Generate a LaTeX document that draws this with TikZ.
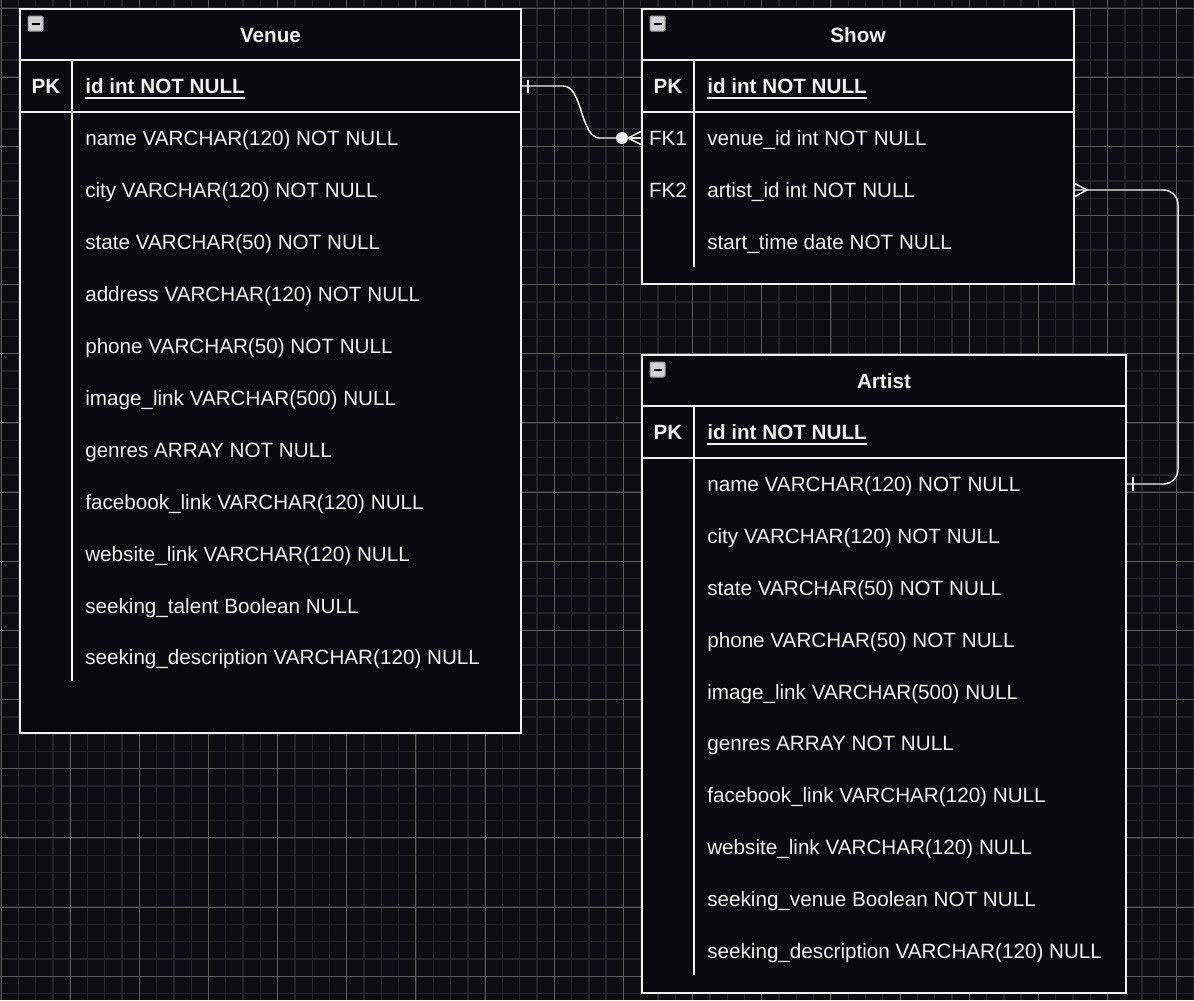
\documentclass[tikz,border=0pt]{standalone}
\usepackage{fontspec}
\setmainfont{Liberation Sans}
\usetikzlibrary{calc}
\definecolor{canvas}{HTML}{0E0D12}
\definecolor{boxfill}{HTML}{0A090D}
\definecolor{ink}{HTML}{F0F0F0}
\definecolor{gridminor}{HTML}{25242A}
\definecolor{gridmajor}{HTML}{5C5C5C}
\newcommand{\erfont}{\fontsize{15.5}{18}\selectfont}
\tikzset{
  minorline/.style={draw=gridminor, line width=1pt},
  majorline/.style={draw=gridmajor, line width=0.75pt},
  tablebox/.style={draw=ink, fill=boxfill, line width=1.5pt},
  seprule/.style={draw=ink, line width=1.5pt},
  field/.style={anchor=base west, inner sep=0pt, text=ink, font=\erfont},
  keyname/.style={anchor=base, inner sep=0pt, text=ink, font=\erfont},
  tabletitle/.style={anchor=base, inner sep=0pt, text=ink, font=\erfont\bfseries},
  rel/.style={draw=ink, line width=1.1pt},
}
\begin{document}
\begin{tikzpicture}[x=0.75pt,y=-0.75pt]
  \useasboundingbox (0,0) rectangle (1194,1000);
  \fill[canvas] (0,0) rectangle (1194,1000);
  % grid
  \foreach \i in {0,...,69}
    \draw[minorline] (1+17.29*\i,0) -- (1+17.29*\i,1000);
  \foreach \i in {-1,...,57}
    \draw[minorline] (0,8+17.29*\i) -- (1194,8+17.29*\i);
  \foreach \i in {0,...,17}
    \draw[majorline] (1+69.16*\i,0) -- (1+69.16*\i,1000);
  \foreach \i in {0,...,14}
    \draw[majorline] (0,8+69.16*\i) -- (1194,8+69.16*\i);
  % tables: left/right/top/bottom/end of key column
  \foreach \l/\r/\t/\b/\e in {20/521/9/733/681, 642/1074/9/284/267, 642/1126/355/993/975} {
    \draw[tablebox] (\l,\t) rectangle (\r,\b);
    \draw[seprule] (\l,\t+51) -- (\r,\t+51);
    \draw[seprule] (\l,\t+103) -- (\r,\t+103);
    \draw[seprule] (\l+52,\t+51) -- (\l+52,\e);
  }
  \foreach \x/\y in {28/16, 650/16, 650/362} {
    \draw[draw=gray!80, fill=gray!35!white, rounded corners=1pt, line width=0.75pt] (\x,\y) rectangle (\x+15,\y+15);
    \draw[black, line width=1.5pt] (\x+3.5,\y+7.5) -- (\x+11.5,\y+7.5);
  }
  % Venue
  \node[tabletitle] (venue) at (270.5,42.5) {Venue};
  \node[tabletitle] (venue-key) at (46,93.5) {PK};
  \node[field, font=\erfont\bfseries] (venue-pk) at (85,93.5) {id int NOT NULL};
  \draw[seprule] ([yshift=-3pt]venue-pk.base west) -- ([yshift=-3pt]venue-pk.base east);
  \foreach \t [count=\i] in {name VARCHAR(120) NOT NULL, city VARCHAR(120) NOT NULL,
      state VARCHAR(50) NOT NULL, address VARCHAR(120) NOT NULL, phone VARCHAR(50) NOT NULL,
      image\_link VARCHAR(500) NULL, genres ARRAY NOT NULL, facebook\_link VARCHAR(120) NULL,
      website\_link VARCHAR(120) NULL, seeking\_talent Boolean NULL,
      seeking\_description VARCHAR(120) NULL}
    \node[field] (venue-\i) at (85,93.5+51.95*\i) {\t};
  % Show
  \node[tabletitle] (show) at (858,42.5) {Show};
  \node[tabletitle] (show-key) at (668,93.5) {PK};
  \node[field, font=\erfont\bfseries] (show-pk) at (707,93.5) {id int NOT NULL};
  \draw[seprule] ([yshift=-3pt]show-pk.base west) -- ([yshift=-3pt]show-pk.base east);
  \node[keyname] (show-fk1) at (668,145.5) {FK1};
  \node[keyname] (show-fk2) at (668,197.5) {FK2};
  \foreach \t [count=\i] in {venue\_id int NOT NULL, artist\_id int NOT NULL, start\_time date NOT NULL}
    \node[field] (show-\i) at (707,93.5+52*\i) {\t};
  % Artist
  \node[tabletitle] (artist) at (884,388.5) {Artist};
  \node[tabletitle] (artist-key) at (668,439.5) {PK};
  \node[field, font=\erfont\bfseries] (artist-pk) at (707,439.5) {id int NOT NULL};
  \draw[seprule] ([yshift=-3pt]artist-pk.base west) -- ([yshift=-3pt]artist-pk.base east);
  \foreach \t [count=\i] in {name VARCHAR(120) NOT NULL, city VARCHAR(120) NOT NULL,
      state VARCHAR(50) NOT NULL, phone VARCHAR(50) NOT NULL, image\_link VARCHAR(500) NULL,
      genres ARRAY NOT NULL, facebook\_link VARCHAR(120) NULL, website\_link VARCHAR(120) NULL,
      seeking\_venue Boolean NOT NULL, seeking\_description VARCHAR(120) NULL}
    \node[field] (artist-\i) at (707,439.5+51.9*\i) {\t};
  % relations
  \coordinate (venue-id) at (521,86);
  \coordinate (show-venue) at (642,138);
  \coordinate (show-artist) at (1074,190);
  \coordinate (artist-id) at (1126,484);
  \coordinate (bend) at (1178,337);
  \draw[rel] (venue-id) -- ($(venue-id)+(42,0)$)
    .. controls ($(venue-id)+(62,0)$) and ($(show-venue)+(-62,0)$) .. ($(show-venue)+(-42,0)$)
    -- ($(show-venue)+(-20,0)$);
  \draw[rel] ($(venue-id)+(7,-6.5)$) -- ($(venue-id)+(7,6.5)$);
  \fill[ink] ($(show-venue)+(-20,0)$) circle[radius=4.5pt];
  \draw[rel] ($(show-venue)+(0,-7)$) -- ($(show-venue)+(-14,0)$) -- ($(show-venue)+(0,7)$);
  \draw[rel] ($(show-venue)+(-20,0)$) -- (show-venue);
  \draw[rel, rounded corners=11pt] (show-artist) -| (bend) |- (artist-id);
  \draw[rel] ($(show-artist)+(0,-7)$) -- ($(show-artist)+(13,0)$) -- ($(show-artist)+(0,7)$);
  \draw[rel] ($(artist-id)+(7,-7)$) -- ($(artist-id)+(7,7)$);
\end{tikzpicture}
\end{document}
